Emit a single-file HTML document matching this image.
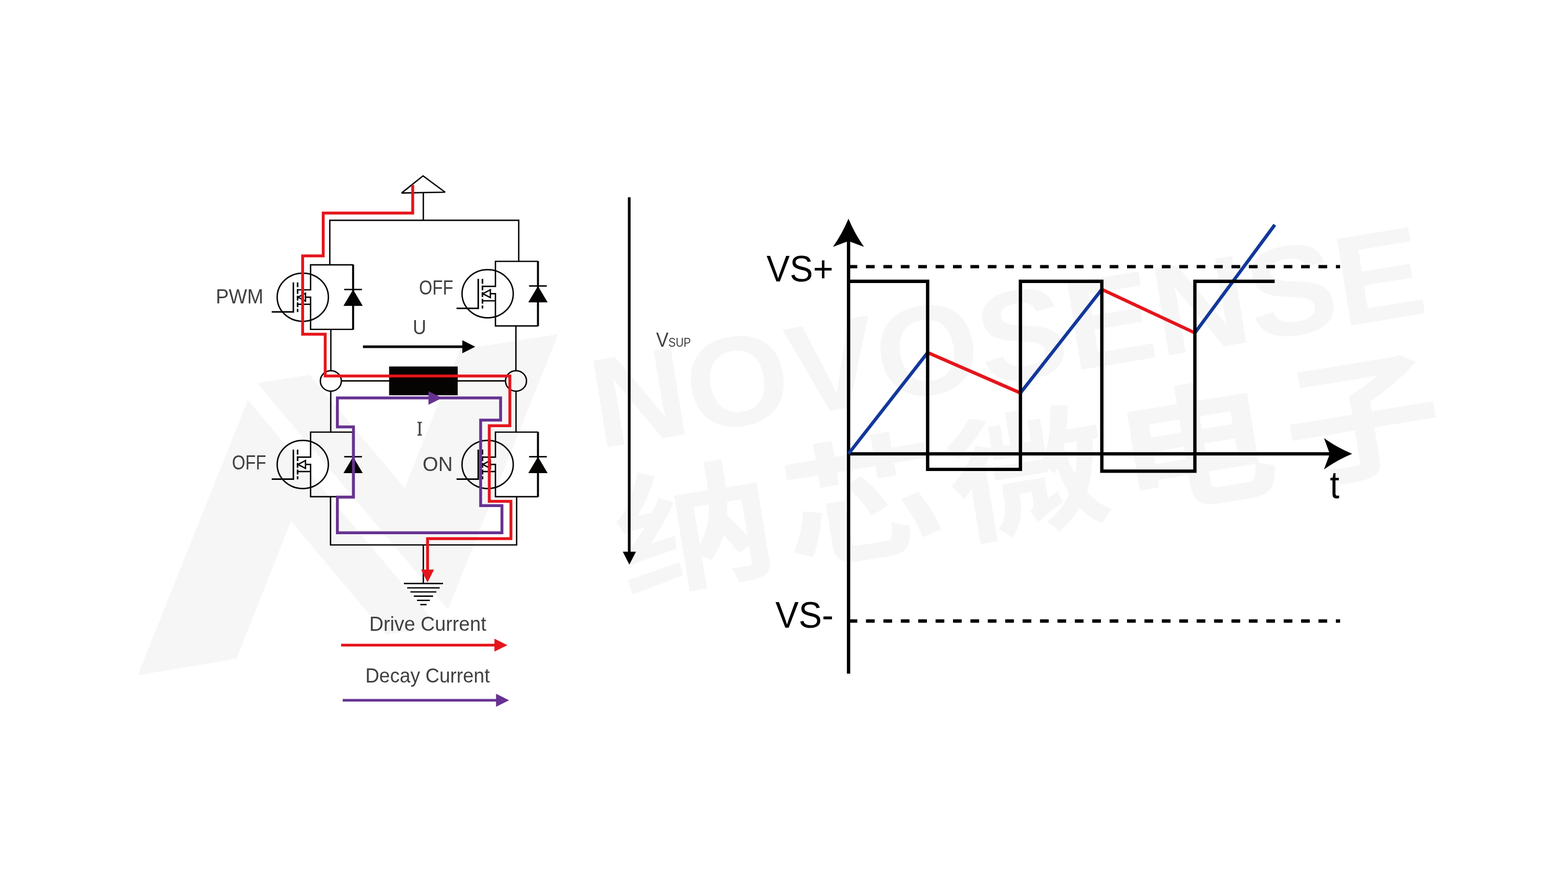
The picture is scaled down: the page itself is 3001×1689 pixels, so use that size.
<!DOCTYPE html>
<html lang="en"><head><meta charset="utf-8"><title>H-bridge drive and decay current</title>
<style>html,body{margin:0;padding:0;background:#fff;}body{width:3001px;height:1689px;overflow:hidden;}svg{display:block;}text{white-space:pre;}svg{will-change:transform;}</style>
</head><body>
<svg width="3001" height="1689" viewBox="0 0 3001 1689">
<rect width="3001" height="1689" fill="#ffffff"/>
<g id="watermark" fill="#f6f6f6">
<polygon points="263.8,1292.9 474.5,766 838.6,1199.7 739.3,1215.5 557,997.5 452.5,1261.6"/>
<polygon points="492.4,733.8 592.5,718 774.6,935.1 879.9,669.5 1068.3,640 857.2,1167.2"/>
<g transform="translate(1146,859) rotate(-9.3)">
<text x="0" y="0" font-family="'Liberation Sans', sans-serif" font-size="244" font-weight="bold" fill="#f6f6f6" textLength="1612" lengthAdjust="spacingAndGlyphs">NOVOSENSE</text>
</g>
<g transform="translate(1196,1140) rotate(-9.3) scale(1.19,1)">
<text x="0" y="-10" font-family="'Noto Sans CJK SC', sans-serif" font-size="256" font-weight="bold" fill="#f6f6f6" letter-spacing="16">纳芯微电子</text>
</g>
</g>
<g id="circuit" fill="none" stroke="#060303" stroke-width="2.65">
<path d="M809.6,336.8 L851.8,368.0 L768.6,369.6 Z" stroke-miterlimit="3"/>
<path d="M810.2,369 V421.9"/>
<path d="M631.2,507 V421.9 H992.8 V500.5"/>
<path d="M633.2,630.8 V710"/>
<path d="M987.4,624.1 V710"/>
<path d="M633,750 V827.5"/>
<path d="M987.6,750 V827.5"/>
<path d="M632.6,951 V1043.5 H988.8 V951"/>
<path d="M810.2,1043.5 V1117.4"/>
<path d="M653,729.4 H745 M875,729.4 H967.6"/>
<ellipse cx="633.2" cy="729.5" rx="20.1" ry="19.6"/>
<ellipse cx="987.6" cy="729.5" rx="20.1" ry="19.6"/>
<rect x="744.7" y="701.8" width="131.3" height="55.1" fill="#060303" stroke="none"/>
<path d="M773,1117.4 H847.8" stroke-width="2.6"/>
<path d="M779.2,1125.8 H841.6" stroke-width="2.6"/>
<path d="M785.4,1133.5 H835.1" stroke-width="2.6"/>
<path d="M791.9,1141.6 H828.9" stroke-width="2.6"/>
<path d="M798.1,1149.7 H822.7" stroke-width="2.6"/>
<path d="M804.3,1157.8 H816.5" stroke-width="2.6"/>
</g>
<g transform="translate(579.5,569.1)" fill="none" stroke="#060303" stroke-width="2.65"><ellipse cx="0" cy="0.1" rx="49.0" ry="46.1" stroke-width="2.7"/><path d="M-59.5,28.1 H-18 V-28.3" stroke-width="3"/><path d="M-9.9,-28.3 V28.3" stroke-width="3" stroke-dasharray="9.3 3.4"/><path d="M-9.9,-14.1 H14.9 V-61.9 H96.3"/><path d="M-9.9,13.6 H14.9"/><path d="M5.2,0 H14.9 V61.7 H96.3"/><path d="M-9.2,0 L5.2,-7.5 V7.5 Z" stroke-width="2.6"/><path d="M96.3,-62.5 V62.3" stroke-width="3.9"/><path d="M79.3,-14.7 H113.3" stroke-width="2.7"/><path d="M96.3,-14.7 L114.8,16.6 H77.8 Z" fill="#060303" stroke="none"/></g>
<g transform="translate(933.3,562.4)" fill="none" stroke="#060303" stroke-width="2.65"><ellipse cx="0" cy="0.1" rx="49.0" ry="46.1" stroke-width="2.7"/><path d="M-59.5,28.1 H-18 V-28.3" stroke-width="3"/><path d="M-9.9,-28.3 V28.3" stroke-width="3" stroke-dasharray="9.3 3.4"/><path d="M-9.9,-14.1 H14.9 V-61.9 H96.3"/><path d="M-9.9,13.6 H14.9"/><path d="M5.2,0 H14.9 V61.7 H96.3"/><path d="M-9.2,0 L5.2,-7.5 V7.5 Z" stroke-width="2.6"/><path d="M96.3,-62.5 V62.3" stroke-width="3.9"/><path d="M79.3,-14.7 H113.3" stroke-width="2.7"/><path d="M96.3,-14.7 L114.8,16.6 H77.8 Z" fill="#060303" stroke="none"/></g>
<g transform="translate(579.5,889.4)" fill="none" stroke="#060303" stroke-width="2.65"><ellipse cx="0" cy="0.1" rx="49.0" ry="46.1" stroke-width="2.7"/><path d="M-59.5,28.1 H-18 V-28.3" stroke-width="3"/><path d="M-9.9,-28.3 V28.3" stroke-width="3" stroke-dasharray="9.3 3.4"/><path d="M-9.9,-14.1 H14.9 V-61.9 H96.3"/><path d="M-9.9,13.6 H14.9"/><path d="M5.2,0 H14.9 V61.7 H96.3"/><path d="M-9.2,0 L5.2,-7.5 V7.5 Z" stroke-width="2.6"/><path d="M96.3,-62.5 V62.3" stroke-width="3.9"/><path d="M79.3,-14.7 H113.3" stroke-width="2.7"/><path d="M96.3,-14.7 L114.8,16.6 H77.8 Z" fill="#060303" stroke="none"/></g>
<g transform="translate(933.3,889.4)" fill="none" stroke="#060303" stroke-width="2.65"><ellipse cx="0" cy="0.1" rx="49.0" ry="46.1" stroke-width="2.7"/><path d="M-59.5,28.1 H-18 V-28.3" stroke-width="3"/><path d="M-9.9,-28.3 V28.3" stroke-width="3" stroke-dasharray="9.3 3.4"/><path d="M-9.9,-14.1 H14.9 V-61.9 H96.3"/><path d="M-9.9,13.6 H14.9"/><path d="M5.2,0 H14.9 V61.7 H96.3"/><path d="M-9.2,0 L5.2,-7.5 V7.5 Z" stroke-width="2.6"/><path d="M96.3,-62.5 V62.3" stroke-width="3.9"/><path d="M79.3,-14.7 H113.3" stroke-width="2.7"/><path d="M96.3,-14.7 L114.8,16.6 H77.8 Z" fill="#060303" stroke="none"/></g>
<path d="M694.7,664 H888" stroke="#000" stroke-width="5.2" fill="none"/>
<polygon points="884.8,651.6 909.6,664 884.8,676.4" fill="#000"/>
<path d="M645.7,762.0 H958.1 V804.6 H919.9 V968.3 H960.7 V1020.2 H645.7 V951.9 H676.5 V817.6 H645.7 Z" fill="none" stroke="#663291" stroke-width="5.5" stroke-linejoin="miter"/>
<polygon points="820.1,749.2 846.4,762.1 820.1,775.0" fill="#663291"/>
<path d="M789.9,354.2 V408.1 H618.6 V490 H579.2 V640 H622.4 V719.9 H975.8 V815.2 H936.4 V960.1 H977.9 V1031.4 H818.3 V1092" fill="none" stroke="#e5151c" stroke-width="5.5" stroke-linejoin="miter"/>
<polygon points="805.9,1090.7 830.7,1090.7 818.2,1115.5" fill="#e5151c"/>
<path d="M652.8,1235.4 H948" stroke="#e5151c" stroke-width="5.2" fill="none"/>
<polygon points="946.3,1223 971.1,1235.4 946.3,1247.8" fill="#e5151c"/>
<path d="M655.9,1341 H951" stroke="#663291" stroke-width="5.2" fill="none"/>
<polygon points="949.4,1328.6 974.2,1341 949.4,1353.4" fill="#663291"/>
<path d="M1204.3,377.7 V1058" stroke="#000" stroke-width="5.2" fill="none"/>
<polygon points="1192,1056.5 1217.2,1056.5 1204.5,1081.3" fill="#000"/>
<text x="412.97" y="581.00" font-family="'Liberation Sans', sans-serif" font-size="39.24" fill="#404040" textLength="91.05" lengthAdjust="spacingAndGlyphs">PWM</text>
<text x="802.11" y="563.80" font-family="'Liberation Sans', sans-serif" font-size="38.52" fill="#404040" textLength="65.22" lengthAdjust="spacingAndGlyphs">OFF</text>
<text x="444.00" y="899.00" font-family="'Liberation Sans', sans-serif" font-size="39.10" fill="#404040" textLength="65.35" lengthAdjust="spacingAndGlyphs">OFF</text>
<text x="808.83" y="901.70" font-family="'Liberation Sans', sans-serif" font-size="38.66" fill="#404040" textLength="57.63" lengthAdjust="spacingAndGlyphs">ON</text>
<text x="789.94" y="639.50" font-family="'Liberation Sans', sans-serif" font-size="38.56" fill="#404040" textLength="25.82" lengthAdjust="spacingAndGlyphs">U</text>
<text x="797.70" y="833.60" font-family="'DejaVu Serif', 'Liberation Serif', serif" font-size="35.94" fill="#404040" stroke="#404040" stroke-width="0.6" textLength="10.98" lengthAdjust="spacingAndGlyphs">I</text>
<text x="706.72" y="1207.80" font-family="'Liberation Sans', sans-serif" font-size="38.66" fill="#404040" textLength="223.96" lengthAdjust="spacingAndGlyphs">Drive Current</text>
<text x="699.17" y="1306.80" font-family="'Liberation Sans', sans-serif" font-size="38.23" fill="#404040" textLength="238.28" lengthAdjust="spacingAndGlyphs">Decay Current</text>
<text font-family="'Liberation Sans', sans-serif" fill="#404040"><tspan x="1255.76" y="663.90" font-size="39.10" textLength="23.73" lengthAdjust="spacingAndGlyphs">V</tspan><tspan x="1279.23" y="663.90" font-size="24.13" textLength="43.13" lengthAdjust="spacingAndGlyphs">SUP</tspan></text>
<g id="chart" fill="none" stroke-width="6.4">
<path d="M1624.05,458 V1289.9" stroke="#000"/>
<path d="M1621,869.1 H2546" stroke="#000"/>
<path d="M1623.9,418.8 Q1635.8,447.4 1653.6,472.7 L1627,462.8 H1620.8 L1594.2,472.7 Q1612,447.4 1623.9,418.8 Z" fill="#000" stroke="none"/>
<path d="M2587.9,869.05 Q2559.2,857 2534.0,839.1 L2543.9,865.9 V872.2 L2534.0,899 Q2559.2,881.1 2587.9,869.05 Z" fill="#000" stroke="none"/>
<path d="M1624.1,510.6 H2564.8" stroke="#000" stroke-dasharray="16.65 16.66"/>
<path d="M1624.1,1189.2 H2564.8" stroke="#000" stroke-dasharray="16.65 16.66"/>
<path d="M1624.1,868.9 L1775.4,675.2" stroke="#11389a"/>
<path d="M1953,752.5 L2108.8,554.1" stroke="#11389a"/>
<path d="M2286.9,637.4 L2439.8,430.5" stroke="#11389a"/>
<path d="M1775.4,675.2 L1953,752.5" stroke="#e5151c"/>
<path d="M2108.8,554.1 L2286.9,637.4" stroke="#e5151c"/>
<path d="M1624.1,538.7 H1775.4 V898.9 H1953 V538.7 H2108.8 V902.3 H2286.9 V538.7 H2439.6" stroke="#000" stroke-linejoin="miter"/>
</g>
<text x="1467.07" y="538.80" font-family="'Liberation Sans', sans-serif" font-size="69.48" fill="#000000" textLength="127.87" lengthAdjust="spacingAndGlyphs">VS+</text>
<text x="1484.07" y="1202.10" font-family="'Liberation Sans', sans-serif" font-size="69.77" fill="#000000" textLength="111.23" lengthAdjust="spacingAndGlyphs">VS-</text>
<text x="2545.19" y="953.60" font-family="'Liberation Sans', sans-serif" font-size="73.37" fill="#000000" textLength="18.20" lengthAdjust="spacingAndGlyphs">t</text>
</svg></body></html>
